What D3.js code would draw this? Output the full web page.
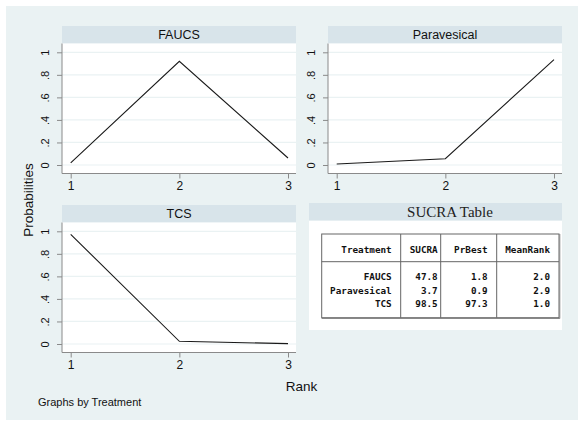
<!DOCTYPE html>
<html>
<head>
<meta charset="utf-8">
<script src="https://cdn.jsdelivr.net/npm/d3@7"></script>
<style>
body { margin: 0; background: #fff; }
</style>
</head>
<body>
<script>
var ranks = [1, 2, 3];
var yTicks = [0, 0.2, 0.4, 0.6, 0.8, 1];
var yTickLabels = ["0", ".2", ".4", ".6", ".8", "1"];
var faucs = [0.018, 0.92, 0.062];
var paravesical = [0.009, 0.056, 0.935];
var tcs = [0.973, 0.024, 0.003];

var tableHead = ["Treatment", "SUCRA", "PrBest", "MeanRank"];
var tableTreat = ["FAUCS", "Paravesical", "TCS"];
var tableSucra = ["47.8", "3.7", "98.5"];
var tablePrBest = ["1.8", "0.9", "97.3"];
var tableMeanRank = ["2.0", "2.9", "1.0"];

var bg = "#eaf2f3", strip = "#d8e4ea";
var sansFont = "Liberation Sans, Arial, sans-serif";
var monoFont = "DejaVu Sans Mono, Liberation Mono, monospace";
var serifFont = "Liberation Serif, Times New Roman, serif";

var svg = d3.select("body").append("svg")
	.attr("width", 578).attr("height", 422)
	.style("font-family", sansFont);

svg.append("rect").attr("x", 6).attr("y", 6).attr("width", 572).attr("height", 414).attr("fill", bg);

var panels = [
	{ name: "FAUCS", values: faucs, x0: 62, x1: 296, top: 26 },
	{ name: "Paravesical", values: paravesical, x0: 328, x1: 562, top: 26 },
	{ name: "TCS", values: tcs, x0: 62, x1: 296, top: 205 }
];

panels.forEach(function(p){
	var g = svg.append("g");
	var hTop = p.top, hBot = p.top + 17.5, axisY = hBot + 130;

	g.append("rect").attr("x", p.x0).attr("y", hTop).attr("width", p.x1 - p.x0).attr("height", hBot - hTop).attr("fill", strip);
	g.append("text").attr("x", (p.x0 + p.x1) / 2).attr("y", hBot - 4.5)
		.attr("text-anchor", "middle").attr("font-size", 12.5).attr("fill", "#111").text(p.name);
	g.append("rect").attr("x", p.x0).attr("y", hBot).attr("width", p.x1 - p.x0).attr("height", axisY - hBot).attr("fill", "#fff");

	var x = d3.scaleLinear().domain([1, 3]).range([p.x0 + 8.7, p.x1 - 8]);
	var y = d3.scaleLinear().domain([0, 1]).range([axisY - 8.5, hBot + 8.8]);

	g.selectAll(".grid").data(yTicks).enter().append("line")
		.attr("x1", p.x0).attr("x2", p.x1)
		.attr("y1", function(d){ return y(d); }).attr("y2", function(d){ return y(d); })
		.attr("stroke", bg).attr("stroke-width", 1.2);

	var yAxis = g.append("g").attr("transform", "translate(" + p.x0 + ",0)")
		.call(d3.axisLeft(y).tickValues(yTicks).tickSize(5).tickPadding(3)
			.tickFormat(function(d, i){ return yTickLabels[i]; }));
	yAxis.select(".domain").attr("d", "M0," + hBot + "V" + axisY);
	yAxis.selectAll(".tick text")
		.attr("transform", "rotate(-90)")
		.attr("x", 0).attr("y", -13).attr("dy", "0")
		.attr("text-anchor", "middle")
		.attr("font-size", 11).style("font-family", sansFont).attr("fill", "#111");

	var xAxis = g.append("g").attr("transform", "translate(0," + axisY + ")")
		.call(d3.axisBottom(x).tickValues(ranks).tickSize(5).tickPadding(3).tickFormat(d3.format("d")));
	xAxis.select(".domain").attr("d", "M" + p.x0 + ",0H" + p.x1);
	xAxis.selectAll(".tick text").attr("font-size", 12).style("font-family", sansFont).attr("fill", "#111");

	[yAxis, xAxis].forEach(function(a){
		a.selectAll(".domain").attr("stroke", "#8a8a8a");
		a.selectAll(".tick line").attr("stroke", "#8a8a8a");
	});

	g.append("path")
		.datum(p.values)
		.attr("fill", "none").attr("stroke", "#1a1a1a").attr("stroke-width", 1.1)
		.attr("d", d3.line().x(function(d, i){ return x(ranks[i]); }).y(function(d){ return y(d); }));
});

// SUCRA table panel
var tg = svg.append("g");
tg.append("rect").attr("x", 309).attr("y", 203).attr("width", 253).attr("height", 17.7).attr("fill", strip);
tg.append("text").attr("x", 450).attr("y", 217).attr("text-anchor", "middle")
	.style("font-family", serifFont).attr("font-size", 15).attr("fill", "#222")
	.text("SUCRA Table");
tg.append("rect").attr("x", 309).attr("y", 220.7).attr("width", 253).attr("height", 109.3).attr("fill", "#fff");

var tx0 = 321.7, tx1 = 559, ty0 = 234, ty1 = 317.7;
var colLines = [400.7, 440.7, 496.7];
var colRight = [391.7, 437.7, 487.7, 550];
tg.append("rect").attr("x", tx0).attr("y", ty0).attr("width", tx1 - tx0).attr("height", ty1 - ty0)
	.attr("fill", "none").attr("stroke", "#666").attr("stroke-width", 1);
tg.append("line").attr("x1", tx1 + 0.8).attr("x2", tx1 + 0.8).attr("y1", ty0).attr("y2", ty1 + 0.8).attr("stroke", "#888");
tg.append("line").attr("x1", tx0).attr("x2", tx1 + 0.8).attr("y1", ty1 + 0.8).attr("y2", ty1 + 0.8).attr("stroke", "#888");
tg.selectAll(".col").data(colLines).enter().append("line")
	.attr("x1", function(d){ return d; }).attr("x2", function(d){ return d; })
	.attr("y1", ty0).attr("y2", ty1).attr("stroke", "#666");
tg.append("line").attr("x1", tx0).attr("x2", tx1).attr("y1", 261.7).attr("y2", 261.7).attr("stroke", "#666");

tg.selectAll(".hd").data(tableHead).enter().append("text")
	.attr("x", function(d, i){ return colRight[i]; }).attr("y", 253)
	.attr("text-anchor", "end").style("font-family", monoFont).attr("font-weight", "bold")
	.attr("font-size", 9.3).attr("fill", "#111").text(function(d){ return d; });

var rowY = [280, 293.5, 307];
var cols = [tableTreat, tableSucra, tablePrBest, tableMeanRank];
cols.forEach(function(col, ci){
	tg.selectAll(".c" + ci).data(col).enter().append("text")
		.attr("x", colRight[ci]).attr("y", function(d, i){ return rowY[i]; })
		.attr("text-anchor", "end").style("font-family", monoFont).attr("font-weight", "bold")
		.attr("font-size", 9.3).attr("fill", "#111").text(function(d){ return d; });
});

// axis titles and note
svg.append("text").attr("transform", "translate(33,200) rotate(-90)").attr("text-anchor", "middle")
	.attr("font-size", 13.5).attr("fill", "#111").text("Probabilities");
svg.append("text").attr("x", 301.5).attr("y", 391).attr("text-anchor", "middle")
	.attr("font-size", 13.5).attr("fill", "#111").text("Rank");
svg.append("text").attr("x", 38).attr("y", 406).attr("font-size", 11).attr("fill", "#111").text("Graphs by Treatment");
</script>
</body>
</html>
